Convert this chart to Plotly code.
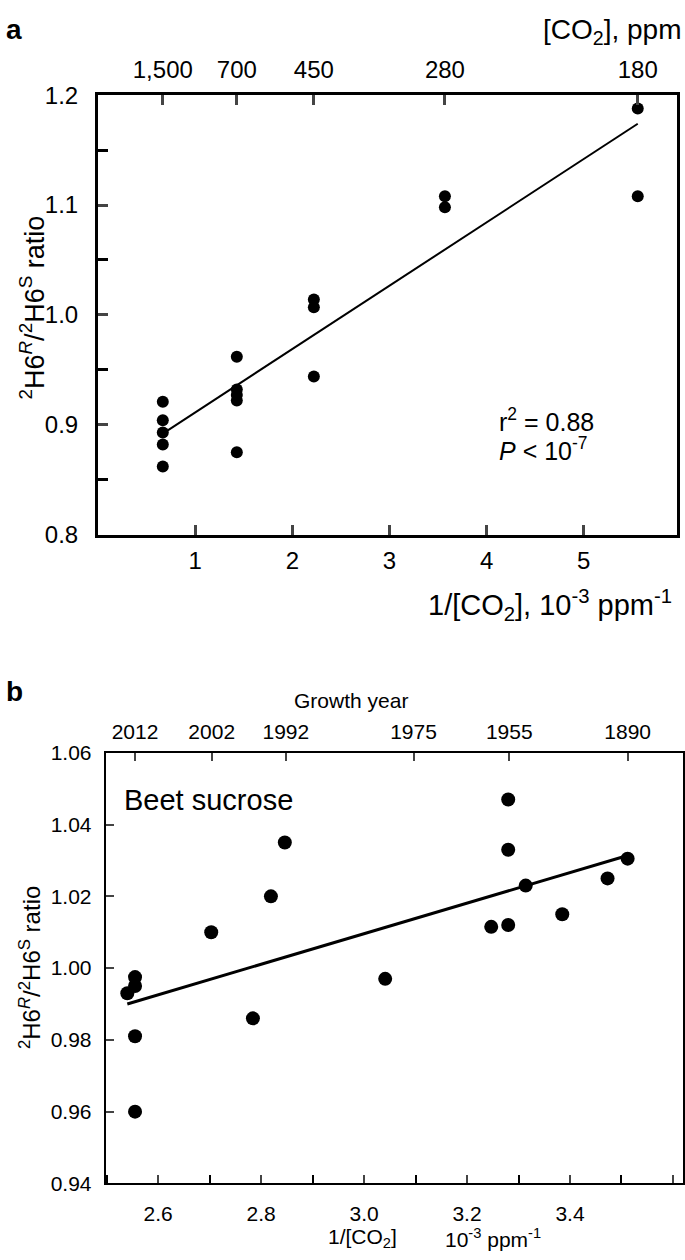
import plotly.graph_objects as go

# panel a: ratio vs 1/[CO2] (10^-3 ppm^-1)
a_x = [0.667, 0.667, 0.667, 0.667, 0.667,
       1.429, 1.429, 1.429, 1.429, 1.429,
       2.222, 2.222, 2.222,
       3.571, 3.571,
       5.556, 5.556]
a_ratio = [0.921, 0.904, 0.893, 0.882, 0.862,
           0.962, 0.932, 0.927, 0.922, 0.875,
           1.014, 1.007, 0.944,
           1.108, 1.098,
           1.188, 1.108]
a_fit_x = [0.667, 5.556]
a_fit_y = [0.892, 1.174]
a_top_vals = [0.667, 1.429, 2.222, 3.571, 5.556]
a_top_text = ["1,500", "700", "450", "280", "180"]

# panel b: beet sucrose
b_x = [2.540, 2.555, 2.555, 2.555, 2.555, 2.703, 2.784, 2.819, 2.846,
       3.041, 3.247, 3.280, 3.280, 3.280, 3.314, 3.385, 3.473, 3.512]
b_ratio = [0.993, 0.9975, 0.995, 0.981, 0.960, 1.010, 0.986, 1.020, 1.035,
           0.997, 1.0115, 1.012, 1.033, 1.047, 1.023, 1.015, 1.025, 1.0305]
b_fit_x = [2.540, 3.512]
b_fit_y = [0.990, 1.0314]
b_top_vals = [2.555, 2.704, 2.848, 3.096, 3.282, 3.512]
b_top_text = ["2012", "2002", "1992", "1975", "1955", "1890"]

W, H = 685, 1260
FONT = "Liberation Sans, Arial, sans-serif"

def px(x):
    return x / W

def py(y):
    return 1 - y / H

fig = go.Figure()
fig.add_trace(go.Scatter(x=a_x, y=a_ratio, mode="markers", xaxis="x", yaxis="y",
                         marker=dict(color="black", size=12), showlegend=False))
fig.add_trace(go.Scatter(x=a_fit_x, y=a_fit_y, mode="lines", xaxis="x", yaxis="y",
                         line=dict(color="black", width=2), showlegend=False))
fig.add_trace(go.Scatter(x=[], y=[], xaxis="x2", yaxis="y", showlegend=False))
fig.add_trace(go.Scatter(x=b_x, y=b_ratio, mode="markers", xaxis="x3", yaxis="y3",
                         marker=dict(color="black", size=14), showlegend=False))
fig.add_trace(go.Scatter(x=b_fit_x, y=b_fit_y, mode="lines", xaxis="x3", yaxis="y3",
                         line=dict(color="black", width=3), showlegend=False))
fig.add_trace(go.Scatter(x=[], y=[], xaxis="x4", yaxis="y3", showlegend=False))

fa = dict(family=FONT, size=24, color="black")
fb = dict(family=FONT, size=21, color="black")

fig.update_layout(
    width=W, height=H,
    margin=dict(l=0, r=0, t=0, b=0),
    paper_bgcolor="white", plot_bgcolor="white",
    font=dict(family=FONT, color="black"),
    xaxis=dict(domain=[px(98), px(677)], anchor="y", range=[0, 5.96],
               tickvals=[1, 2, 3, 4, 5], ticks="inside", ticklen=10, tickwidth=3,
               ticklabelstandoff=3,
               showline=True, linewidth=3, linecolor="black", mirror=True,
               showgrid=False, zeroline=False, tickfont=fa),
    xaxis2=dict(overlaying="x", side="top", anchor="y", range=[0, 5.96],
                tickvals=a_top_vals, ticktext=a_top_text, ticks="inside",
                ticklen=10, tickwidth=3, ticklabelstandoff=11,
                showline=False, showgrid=False,
                zeroline=False, tickfont=fa),
    yaxis=dict(domain=[py(532), py(83)], anchor="x", range=[0.8, 1.2],
               dtick=0.1, tickformat=".1f", ticks="inside", ticklen=10, tickwidth=3,
               ticklabelstandoff=12,
               minor=dict(dtick=0.05, ticks="inside", ticklen=10, tickwidth=3,
                          tickcolor="black"),
               showline=True, linewidth=3, linecolor="black", mirror=True,
               showgrid=False, zeroline=False, tickfont=fa),
    xaxis3=dict(domain=[px(105.7), px(682.7)], anchor="y3", range=[2.498, 3.619],
                tick0=2.6, dtick=0.2, tickformat=".1f", ticks="inside", ticklen=8,
                tickwidth=2, ticklabelstandoff=10,
                minor=dict(dtick=0.1, ticks="inside", ticklen=8, tickwidth=2,
                           tickcolor="black"),
                showline=True, linewidth=2, linecolor="black", mirror=True,
                showgrid=False, zeroline=False, tickfont=fb),
    xaxis4=dict(overlaying="x3", side="top", anchor="y3", range=[2.498, 3.619],
                tickvals=b_top_vals, ticktext=b_top_text, ticks="inside",
                ticklen=8, tickwidth=2, ticklabelstandoff=9,
                showline=False, showgrid=False,
                zeroline=False, tickfont=fb),
    yaxis3=dict(domain=[py(1195), py(755)], anchor="x3", range=[0.94, 1.06],
                dtick=0.02, tickformat=".2f", ticks="inside", ticklen=8, tickwidth=2,
                ticklabelstandoff=8,
                showline=True, linewidth=2, linecolor="black", mirror=True,
                showgrid=False, zeroline=False, tickfont=fb),
)

def note(text, x, y, size, xanchor="center", angle=0, bold=False):
    fig.add_annotation(text=("<b>%s</b>" % text) if bold else text,
                       x=px(x), y=py(y), xref="paper", yref="paper",
                       xanchor=xanchor, yanchor="middle", showarrow=False,
                       textangle=angle, font=dict(family=FONT, size=size, color="black"))

note("a", 4, 16, 28, xanchor="left", bold=True)
note("[CO<sub>2</sub>], ppm", 684, 18, 28, xanchor="right")
note("<sup>2</sup>H6<sup><i>R</i></sup>/<sup>2</sup>H6<sup>S</sup> ratio", 32, 300, 27, angle=-90)
note("1/[CO<sub>2</sub>], 10<sup>-3</sup> ppm<sup>-1</sup>", 674, 604, 29, xanchor="right")
note("r<sup>2</sup> = 0.88", 497, 415, 25, xanchor="left")
note("<i>P</i> < 10<sup>-7</sup>", 497, 445, 25, xanchor="left")

note("b", 4, 692, 28, xanchor="left", bold=True)
note("Growth year", 351, 702, 21)
note("Beet sucrose", 122, 803, 29, xanchor="left")
note("<sup>2</sup>H6<sup><i>R</i></sup>/<sup>2</sup>H6<sup>S</sup> ratio", 30, 975, 24, angle=-90)
note("1/[CO<sub>2</sub>]", 362, 1251, 21)
note("10<sup>-3</sup> ppm<sup>-1</sup>", 493, 1251, 21)

# drop the page's default body margin so the figure sits at the window's corner
fig.write_html("out.html", config={"displayModeBar": False},
               post_script="document.body.style.margin='0';")
